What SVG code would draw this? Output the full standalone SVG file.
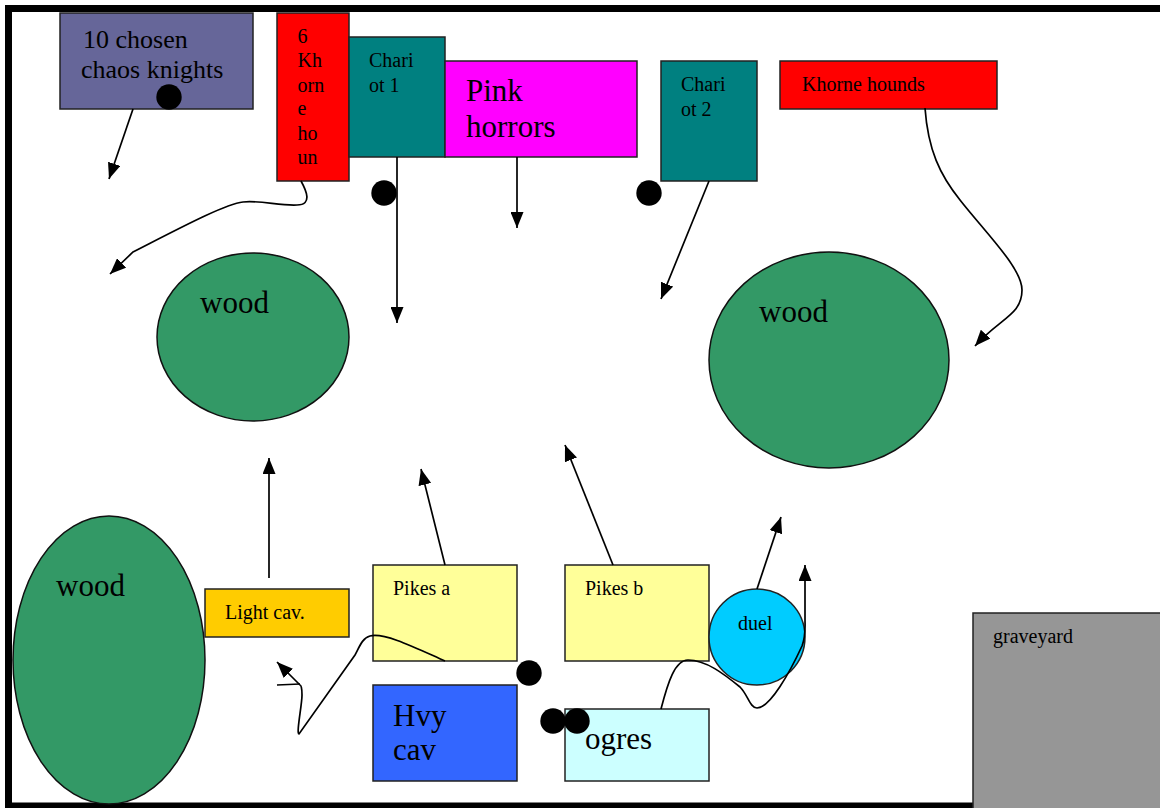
<svg xmlns="http://www.w3.org/2000/svg" width="1160" height="808" viewBox="0 0 1160 808">
  <style>
    .box { stroke: #222; stroke-width: 1.5; }
    .wood { fill: #339966; stroke: #111; stroke-width: 1.5; }
    .lbl { font-family: "Liberation Serif", "Times New Roman", serif; fill: #000; }
    .sm { font-size: 20px; }
    .md { font-size: 26px; }
    .lg { font-size: 31px; }
    .con { fill: none; stroke: #000; stroke-width: 1.7; }
    .token { fill: #000; }
  </style>
  <defs>
    <marker id="arrow" markerUnits="userSpaceOnUse" markerWidth="17" markerHeight="13" refX="16" refY="6.5" orient="auto">
      <path d="M0,0 L16,6.5 L0,13 z" fill="#000"/>
    </marker>
  </defs>

  <rect width="1160" height="808" fill="#fff"/>
  <!-- table edge -->
  <rect x="8.5" y="8.5" width="1200" height="797.5" fill="none" stroke="#000" stroke-width="7"/>

  <!-- terrain -->
  <g id="wood-top-left">
    <ellipse class="wood" cx="253" cy="337" rx="96" ry="84"/>
    <text class="lbl lg" x="200" y="313">wood</text>
  </g>
  <g id="wood-right">
    <ellipse class="wood" cx="829" cy="360" rx="120" ry="108"/>
    <text class="lbl lg" x="759" y="322">wood</text>
  </g>
  <g id="wood-bottom-left">
    <ellipse class="wood" cx="109" cy="660" rx="96" ry="144"/>
    <text class="lbl lg" x="56" y="596">wood</text>
  </g>
  <g id="graveyard">
    <rect class="box" x="973" y="613" width="200" height="200" fill="#969696"/>
    <text class="lbl sm" x="993" y="643">graveyard</text>
  </g>

  <!-- chaos army -->
  <g id="chaos-knights">
    <rect class="box" x="60" y="13" width="193" height="96" fill="#666699"/>
    <text class="lbl md" x="83" y="48">10 chosen</text>
    <text class="lbl md" x="81" y="78">chaos knights</text>
  </g>
  <g id="khorne-6">
    <rect class="box" x="277" y="13" width="72" height="168" fill="#ff0000"/>
    <text class="lbl sm" x="297.5">
      <tspan x="297.5" y="43">6</tspan>
      <tspan x="297.5" y="67">Kh</tspan>
      <tspan x="297.5" y="92">orn</tspan>
      <tspan x="297.5" y="115">e</tspan>
      <tspan x="297.5" y="140">ho</tspan>
      <tspan x="297.5" y="164">un</tspan>
    </text>
  </g>
  <g id="chariot-1">
    <rect class="box" x="349" y="37" width="96" height="120" fill="#008080"/>
    <text class="lbl sm" x="369" y="67">Chari</text>
    <text class="lbl sm" x="369" y="92">ot 1</text>
  </g>
  <g id="pink-horrors">
    <rect class="box" x="445" y="61" width="192" height="96" fill="#ff00ff"/>
    <text class="lbl lg" x="466" y="101">Pink</text>
    <text class="lbl lg" x="466" y="137">horrors</text>
  </g>
  <g id="chariot-2">
    <rect class="box" x="661" y="61" width="96" height="120" fill="#008080"/>
    <text class="lbl sm" x="681" y="91">Chari</text>
    <text class="lbl sm" x="681" y="116">ot 2</text>
  </g>
  <g id="khorne-hounds">
    <rect class="box" x="780" y="61" width="217" height="48" fill="#ff0000"/>
    <text class="lbl sm" x="802" y="91">Khorne hounds</text>
  </g>

  <!-- empire army -->
  <g id="light-cav">
    <rect class="box" x="205" y="589" width="144" height="48" fill="#ffcc00"/>
    <text class="lbl sm" x="225" y="619">Light cav.</text>
  </g>
  <g id="pikes-a">
    <rect class="box" x="373" y="565" width="144" height="96" fill="#ffff99"/>
    <text class="lbl sm" x="393" y="595">Pikes a</text>
  </g>
  <g id="pikes-b">
    <rect class="box" x="565" y="565" width="144" height="96" fill="#ffff99"/>
    <text class="lbl sm" x="585" y="595">Pikes b</text>
  </g>
  <g id="hvy-cav">
    <rect class="box" x="373" y="685" width="144" height="96" fill="#3366ff"/>
    <text class="lbl lg" x="393" y="726">Hvy</text>
    <text class="lbl lg" x="393" y="760">cav</text>
  </g>
  <g id="ogres">
    <rect class="box" x="565" y="709" width="144" height="72" fill="#ccffff"/>
    <text class="lbl lg" x="585" y="749">ogres</text>
  </g>
  <g id="duel">
    <circle class="box" cx="757" cy="637" r="48" fill="#00ccff"/>
    <text class="lbl sm" x="738" y="630">duel</text>
  </g>

  <!-- movement -->
  <g id="connectors">
    <path class="con" d="M133,109 L109,179" marker-end="url(#arrow)"/>
    <path class="con" d="M301,181 C306,190 313,205 297,205 C280,206 260,200 243,202 C225,204 180,228 133,252 L110,274" marker-end="url(#arrow)"/>
    <path class="con" d="M397,157 L397,323" marker-end="url(#arrow)"/>
    <path class="con" d="M517,157 L517,228" marker-end="url(#arrow)"/>
    <path class="con" d="M709,181 L661,299" marker-end="url(#arrow)"/>
    <path class="con" d="M925,108 C928,150 940,175 960,200 C985,232 1022,268 1022,290 C1022,315 1000,318 975,346" marker-end="url(#arrow)"/>
    <path class="con" d="M269,578 L269,458" marker-end="url(#arrow)"/>
    <path class="con" d="M445,565 L421,469" marker-end="url(#arrow)"/>
    <path class="con" d="M613,565 L565,445" marker-end="url(#arrow)"/>
    <path class="con" d="M757,589 L781,517" marker-end="url(#arrow)"/>
    <path class="con" d="M661,709 C668,682 675,660 688,660 C706,660 724,674 740,687 C748,695 750,708 757,708 C770,708 790,672 802,646 C806,636 805,628 805,618 L805,565" marker-end="url(#arrow)"/>
    <path class="con" d="M445,661 C420,650 385,632 370,636 C362,638 359,648 355,655 L299,734 C296,734 302,705 302,695 C302,688 301,685 300,685 L277,662" marker-end="url(#arrow)"/>
    <path class="con" d="M277,685 L300,684"/>
  </g>

  <!-- unit tokens -->
  <g id="tokens">
    <circle class="token" cx="169" cy="97" r="12.7"/>
    <circle class="token" cx="384" cy="193" r="12.7"/>
    <circle class="token" cx="649" cy="193" r="12.7"/>
    <circle class="token" cx="529" cy="673" r="12.7"/>
    <circle class="token" cx="553" cy="721" r="12.7"/>
    <circle class="token" cx="577" cy="721" r="12.7"/>
  </g>
</svg>
